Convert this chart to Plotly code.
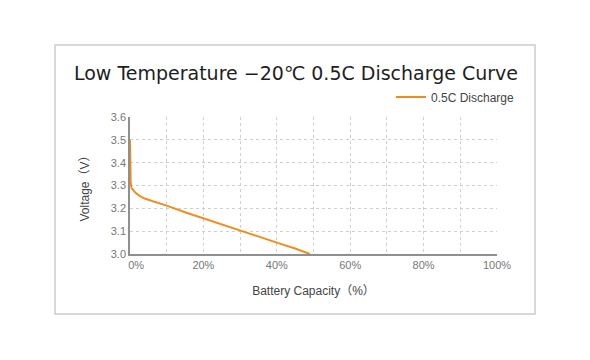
import plotly.graph_objects as go

# Data
capacity_pct = [0, 0.05, 0.1, 0.2, 0.4, 0.8, 1.5, 2.5, 4, 6, 8, 10, 15, 20, 25, 30, 35, 40, 45, 49]
voltage_v = [3.50, 3.42, 3.36, 3.31, 3.29, 3.28, 3.268, 3.256, 3.243, 3.232, 3.222, 3.212,
             3.183, 3.156, 3.128, 3.101, 3.075, 3.05, 3.024, 3.0]
series_name = "0.5C Discharge"
x_tick_vals = [0, 20, 40, 60, 80, 100]
x_tick_text = ["\u00a0\u00a0\u00a0\u00a00%", "20%", "40%", "60%", "80%", "100%"]
y_tick_vals = [3.0, 3.1, 3.2, 3.3, 3.4, 3.5, 3.6]
y_tick_text = ["3.0", "3.1", "3.2", "3.3", "3.4", "3.5", "3.6"]

# page body has an 8px default margin; compensate so the figure lands at the target pixels
OFF = 8
W, H = 590 - OFF, 360 - OFF
L, R, T, B = 130 - OFF, 497 - OFF, 117 - OFF, 254 - OFF

fig = go.Figure()
fig.add_trace(go.Scatter(
    x=capacity_pct, y=voltage_v, mode="lines", name=series_name,
    line=dict(color="#F08E1C", width=2),
))

def px_x(p):
    return (p - OFF - L) / (R - L)

def px_y(p):
    return (B - (p - OFF)) / (B - T)

fig.update_layout(
    width=W, height=H,
    margin=dict(l=L, r=W - R, t=T, b=H - B),
    paper_bgcolor="white", plot_bgcolor="white",
    font=dict(family="Liberation Sans, Noto Sans CJK SC", color="#555", size=11),
    title=dict(
        text="Low Temperature −20℃ 0.5C Discharge Curve",
        x=(296 - OFF) / W, xanchor="center", y=1 - (73 - OFF) / H, yanchor="middle",
        font=dict(size=19, color="#1e1e1e", family="DejaVu Sans, Liberation Sans, Noto Sans CJK SC"),
    ),
    showlegend=True,
    legend=dict(
        orientation="h", x=px_x(391), xanchor="left", y=px_y(97), yanchor="middle",
        font=dict(size=12, color="#444"), bgcolor="rgba(0,0,0,0)",
        itemwidth=30,
    ),
    xaxis=dict(
        range=[0, 100], tickvals=x_tick_vals, ticktext=x_tick_text,
        showgrid=True, gridcolor="#cfcfcf", griddash="dot", gridwidth=1,
        minor=dict(dtick=10, showgrid=True, gridcolor="#cfcfcf", griddash="dot"),
        showline=True, linecolor="#8f8f8f", linewidth=1.5, zeroline=False,
        ticks="", tickfont=dict(size=11, color="#777"),
        title=dict(text="Battery Capacity（%）", font=dict(size=12, color="#444"), standoff=17),
        fixedrange=True,
    ),
    yaxis=dict(
        range=[3.0, 3.6], tickvals=y_tick_vals, ticktext=y_tick_text,
        showgrid=True, gridcolor="#cfcfcf", griddash="dot", gridwidth=1,
        showline=True, linecolor="#8f8f8f", linewidth=1.5, zeroline=False,
        ticks="", tickfont=dict(size=11, color="#777"),
        title=dict(text="Voltage（V）", font=dict(size=12, color="#444"), standoff=19),
        fixedrange=True,
    ),
    shapes=[dict(
        type="rect", xref="paper", yref="paper",
        x0=px_x(55), x1=px_x(535), y0=px_y(314), y1=px_y(45),
        line=dict(color="#cccccc", width=1.5), fillcolor="rgba(0,0,0,0)", layer="below",
    )],
)

fig.write_html("out.html")
